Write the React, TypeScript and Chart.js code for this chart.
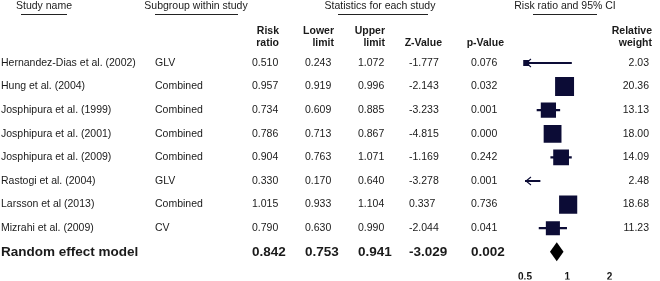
import React, { useEffect, useRef } from 'react';
import { Chart, registerables } from 'chart.js';

Chart.register(...registerables);

// ---------- data ----------
const studyNames = [
  'Hernandez-Dias et al. (2002)',
  'Hung et al. (2004)',
  'Josphipura et al. (1999)',
  'Josphipura et al. (2001)',
  'Josphipura et al. (2009)',
  'Rastogi et al. (2004)',
  'Larsson et al (2013)',
  'Mizrahi et al. (2009)',
];
const subgroups = ['GLV', 'Combined', 'Combined', 'Combined', 'Combined', 'GLV', 'Combined', 'CV'];
const riskRatios = [0.51, 0.957, 0.734, 0.786, 0.904, 0.33, 1.015, 0.79];
const lowerLimits = [0.243, 0.919, 0.609, 0.713, 0.763, 0.17, 0.933, 0.63];
const upperLimits = [1.072, 0.996, 0.885, 0.867, 1.071, 0.64, 1.104, 0.99];
const zValues = [-1.777, -2.143, -3.233, -4.815, -1.169, -3.278, 0.337, -2.044];
const pValues = [0.076, 0.032, 0.001, 0.0, 0.242, 0.001, 0.736, 0.041];
const relativeWeights = [2.03, 20.36, 13.13, 18.0, 14.09, 2.48, 18.68, 11.23];

const summaryLabel = 'Random effect model';
const summaryRiskRatio = 0.842;
const summaryLower = 0.753;
const summaryUpper = 0.941;
const summaryZ = -3.029;
const summaryP = 0.002;

const axisTicks = [0.5, 1, 2];
const axisMin = 0.5;
const axisMax = 2;

const rowLabels = [...studyNames, summaryLabel];

// ---------- style ----------
const NAVY = '#0c0c36';
const TEXT = '#1a1a1a';
const FONT = '"Liberation Sans", Arial, Helvetica, sans-serif';

const forestPlugin = {
  id: 'forestTable',
  afterDatasetsDraw(chart: any) {
    const ctx = chart.ctx;
    const xs = chart.scales.x;
    const ys = chart.scales.y;
    const area = chart.chartArea;
    ctx.save();
    // arrows for clipped lower limits
    ctx.strokeStyle = NAVY;
    ctx.lineWidth = 1.1;
    lowerLimits.forEach((lo, i) => {
      if (lo < xs.min) {
        const py = ys.getPixelForValue(i);
        const px = area.left + 1;
        ctx.beginPath();
        ctx.moveTo(px + 5, py - 4);
        ctx.lineTo(px, py);
        ctx.lineTo(px + 5, py + 4);
        ctx.stroke();
      }
    });
    // summary diamond
    const dy = ys.getPixelForValue(studyNames.length);
    const xl = xs.getPixelForValue(summaryLower);
    const xm = xs.getPixelForValue(summaryRiskRatio);
    const xu = xs.getPixelForValue(summaryUpper);
    ctx.fillStyle = '#000';
    ctx.beginPath();
    ctx.moveTo(xl, dy);
    ctx.lineTo(xm, dy - 9.5);
    ctx.lineTo(xu, dy);
    ctx.lineTo(xm, dy + 9.5);
    ctx.closePath();
    ctx.fill();
    ctx.restore();
  },
  afterDraw(chart: any) {
    const ctx = chart.ctx;
    const ys = chart.scales.y;
    ctx.save();
    ctx.textBaseline = 'middle';
    ctx.fillStyle = TEXT;
    const t = (s: string, x: number, y: number, align: CanvasTextAlign, font: string) => {
      ctx.font = font;
      ctx.textAlign = align;
      ctx.fillText(s, x, y);
    };
    const normal = `10.5px ${FONT}`;
    const boldHead = `bold 10.5px ${FONT}`;
    const boldBig = `bold 13.5px ${FONT}`;

    // group headers with underlines
    const groups: [string, number, number, number][] = [
      ['Study name', 44, 21, 67],
      ['Subgroup within study', 196, 155, 238],
      ['Statistics for each study', 380, 338, 428],
      ['Risk ratio and 95% CI', 565, 533, 597],
    ];
    ctx.strokeStyle = '#222';
    ctx.lineWidth = 1;
    groups.forEach(([s, cx, u0, u1]) => {
      t(s, cx, 6, 'center', normal);
      ctx.beginPath();
      ctx.moveTo(u0, 14.5);
      ctx.lineTo(u1, 14.5);
      ctx.stroke();
    });

    // column headers
    t('Risk', 279, 31, 'right', boldHead);
    t('ratio', 279, 43, 'right', boldHead);
    t('Lower', 334, 31, 'right', boldHead);
    t('limit', 334, 43, 'right', boldHead);
    t('Upper', 385, 31, 'right', boldHead);
    t('limit', 385, 43, 'right', boldHead);
    t('Z-Value', 442, 43, 'right', boldHead);
    t('p-Value', 504, 43, 'right', boldHead);
    t('Relative', 652, 31, 'right', boldHead);
    t('weight', 652, 43, 'right', boldHead);

    // study rows
    studyNames.forEach((name, i) => {
      const y = ys.getPixelForValue(i);
      t(name, 1, y, 'left', normal);
      t(subgroups[i], 155, y, 'left', normal);
      t(riskRatios[i].toFixed(3), 252, y, 'left', normal);
      t(lowerLimits[i].toFixed(3), 305, y, 'left', normal);
      t(upperLimits[i].toFixed(3), 358, y, 'left', normal);
      t(zValues[i].toFixed(3), 409, y, 'left', normal);
      t(pValues[i].toFixed(3), 471, y, 'left', normal);
      t(relativeWeights[i].toFixed(2), 649, y, 'right', normal);
    });

    // summary row
    const sy = ys.getPixelForValue(studyNames.length);
    t(summaryLabel, 1, sy, 'left', boldBig);
    t(summaryRiskRatio.toFixed(3), 252, sy, 'left', boldBig);
    t(summaryLower.toFixed(3), 305, sy, 'left', boldBig);
    t(summaryUpper.toFixed(3), 358, sy, 'left', boldBig);
    t(summaryZ.toFixed(3), 409, sy, 'left', boldBig);
    t(summaryP.toFixed(3), 471, sy, 'left', boldBig);
    ctx.restore();
  },
};

export default function App() {
  const canvasRef = useRef<HTMLCanvasElement | null>(null);

  useEffect(() => {
    if (!canvasRef.current) return;
    const squareRadius = relativeWeights.map((w) => (4.2 * Math.sqrt(w)) / Math.SQRT2);
    const chart = new Chart(canvasRef.current, {
      type: 'bar',
      data: {
        labels: rowLabels,
        datasets: [
          {
            type: 'line',
            indexAxis: 'y',
            data: riskRatios.map((v, i) => ({ x: v, y: studyNames[i] })),
            showLine: false,
            pointStyle: 'rect',
            pointRadius: squareRadius,
            pointBackgroundColor: NAVY,
            pointBorderColor: NAVY,
            pointBorderWidth: 0,
            clip: { left: 5, right: 0, top: 0, bottom: 0 },
            order: 0,
          } as any,
          {
            type: 'bar',
            indexAxis: 'y',
            data: [...lowerLimits.map((lo, i) => [lo, upperLimits[i]]), null],
            backgroundColor: NAVY,
            borderWidth: 0,
            barThickness: 1.5,
            order: 1,
          } as any,
        ],
      },
      options: {
        animation: false,
        responsive: false,
        indexAxis: 'y',
        events: [],
        layout: { padding: { left: 525, right: 50.5, top: 51.2, bottom: 1.4 } },
        plugins: { legend: { display: false }, tooltip: { enabled: false }, title: { display: false } },
        scales: {
          x: {
            type: 'logarithmic',
            min: axisMin,
            max: axisMax,
            grid: { display: false, drawTicks: false },
            border: { display: false },
            afterBuildTicks: (scale: any) => {
              scale.ticks = axisTicks.map((v) => ({ value: v }));
            },
            afterFit: (scale: any) => {
              scale.height = 16;
            },
            ticks: {
              autoSkip: false,
              maxRotation: 0,
              padding: 7.4,
              color: '#111',
              font: { family: FONT, size: 10, weight: 'bold' },
              callback: (v: any) => String(v),
            },
          },
          y: {
            type: 'category',
            display: false,
            offset: true,
            grid: { display: false },
          },
        },
      },
      plugins: [forestPlugin],
    } as any);
    return () => chart.destroy();
  }, []);

  return (
    <div style={{ position: 'fixed', left: 0, top: 0, width: 660, height: 281, background: '#fff' }}>
      <canvas ref={canvasRef} width={660} height={281} style={{ display: 'block' }} />
    </div>
  );
}
